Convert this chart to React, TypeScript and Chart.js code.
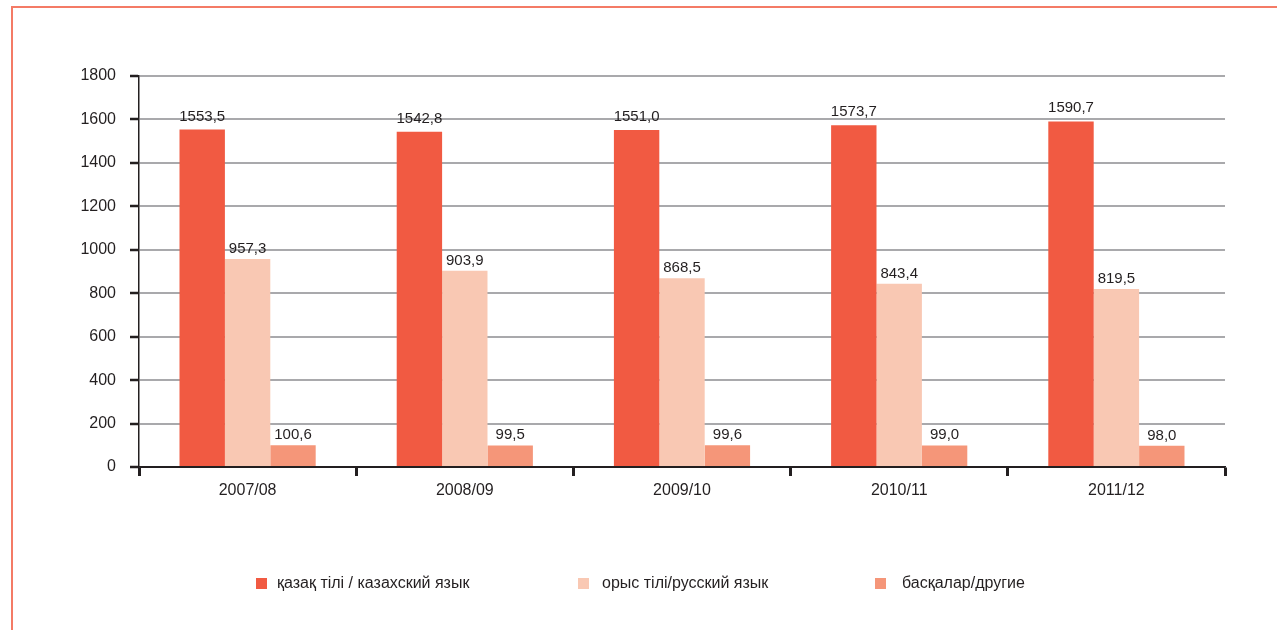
import React, { useEffect, useRef } from "react";
import { Chart, registerables } from "chart.js";

Chart.register(...registerables);

const categories = ["2007/08", "2008/09", "2009/10", "2010/11", "2011/12"];
const seriesNames = ["қазақ тілі / казахский язык", "орыс тілі/русский язык", "басқалар/другие"];
const kazakh = [1553.5, 1542.8, 1551.0, 1573.7, 1590.7];
const russian = [957.3, 903.9, 868.5, 843.4, 819.5];
const others = [100.6, 99.5, 99.6, 99.0, 98.0];
const colors = ["#f15a42", "#f9c8b3", "#f59679"];
const legendBoxX = [256, 578, 875];
const legendTextX = [277, 602, 902];

const FONT = "'Liberation Sans', Arial, sans-serif";
const TEXT = "#231f20";

const fmt = (v: number) => v.toFixed(1).replace(".", ",");

const labelPlugin = {
  id: "valueLabels",
  afterDatasetsDraw(chart: any) {
    const ctx = chart.ctx;
    ctx.save();
    ctx.font = `15px ${FONT}`;
    ctx.fillStyle = TEXT;
    ctx.textAlign = "center";
    ctx.textBaseline = "alphabetic";
    chart.data.datasets.forEach((ds: any, i: number) => {
      const meta = chart.getDatasetMeta(i);
      meta.data.forEach((bar: any, j: number) => {
        ctx.fillText(fmt(ds.data[j]), bar.x, bar.y - (i === 0 ? 9 : 6));
      });
    });
    ctx.restore();
  },
};

const legendPlugin = {
  id: "customLegend",
  afterDraw(chart: any) {
    const ctx = chart.ctx;
    ctx.save();
    ctx.font = `16px ${FONT}`;
    ctx.textBaseline = "middle";
    ctx.textAlign = "left";
    chart.data.datasets.forEach((ds: any, i: number) => {
      const y = 584;
      ctx.fillStyle = ds.backgroundColor;
      ctx.fillRect(legendBoxX[i], y - 6, 11, 11);
      ctx.fillStyle = TEXT;
      ctx.fillText(ds.label, legendTextX[i], y);
    });
    ctx.restore();
  },
};

export default function App() {
  const ref = useRef<HTMLCanvasElement>(null);
  useEffect(() => {
    const canvas = ref.current!;
    const chart = new Chart(canvas, {
      type: "bar",
      data: {
        labels: categories,
        datasets: [kazakh, russian, others].map((d, i) => ({
          label: seriesNames[i],
          data: d,
          backgroundColor: colors[i],
          borderWidth: 0,
          categoryPercentage: 0.627,
          barPercentage: 1,
        })),
      },
      options: {
        responsive: false,
        animation: false,
        layout: { padding: { top: 76, right: 52, left: 0, bottom: 0 } },
        plugins: { legend: { display: false }, tooltip: { enabled: false } },
        scales: {
          x: {
            afterFit: (s: any) => {
              s.height = 630 - 467;
            },
            grid: {
              display: true,
              drawOnChartArea: false,
              drawTicks: true,
              tickLength: 9,
              tickColor: "#231f20",
              tickWidth: 3,
              offset: true,
            },
            border: { display: true, color: "#231f20", width: 1.5 },
            ticks: { color: TEXT, font: { family: FONT, size: 16 }, padding: 5 },
          },
          y: {
            min: 0,
            max: 1800,
            afterFit: (s: any) => {
              s.width = 139;
            },
            ticks: {
              stepSize: 200,
              color: TEXT,
              font: { family: FONT, size: 16 },
              padding: 14,
              callback: (v: any) => String(v),
            },
            grid: {
              color: (c: any) => (c.tick && c.tick.value === 0 ? "#231f20" : "#a9a9ac"),
              lineWidth: 2,
              tickLength: 9,
              tickColor: "#231f20",
              tickWidth: 2.5,
            },
            border: { display: true, color: "#231f20", width: 1.5 },
          },
        },
      },
      plugins: [labelPlugin, legendPlugin],
    });
    return () => chart.destroy();
  }, []);

  return (
    <div style={{ position: "absolute", left: 0, top: 0, width: 1277, height: 630, background: "#fff", overflow: "hidden" }}>
      <div
        style={{
          position: "absolute",
          left: 11,
          top: 6,
          width: 1266,
          height: 624,
          borderLeft: "2px solid #f47b66",
          borderTop: "2px solid #f47b66",
          boxSizing: "border-box",
        }}
      />
      <canvas ref={ref} width={1277} height={630} style={{ position: "absolute", left: 0, top: 0, display: "block" }} />
    </div>
  );
}
